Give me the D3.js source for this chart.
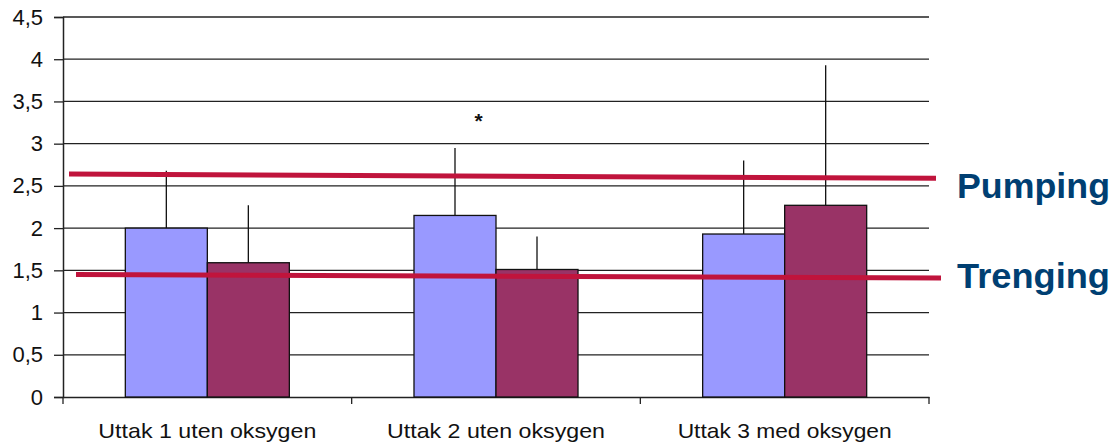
<!DOCTYPE html>
<html><head><meta charset="utf-8">
<script src="https://cdn.jsdelivr.net/npm/d3@7"></script>
<style>body{margin:0;background:#fff}svg{display:block}</style>
</head><body>
<svg id="c" width="1116" height="445"></svg>
<script>
const categories = ["Uttak 1 uten oksygen", "Uttak 2 uten oksygen", "Uttak 3 med oksygen"];
const seriesNames = ["Serie 1", "Serie 2"];
const series1 = [2.0, 2.15, 1.93];
const series2 = [1.59, 1.51, 2.27];
const err1Top = [2.68, 2.95, 2.80];
const err2Top = [2.27, 1.90, 3.93];
const yTicks = [0, 0.5, 1, 1.5, 2, 2.5, 3, 3.5, 4, 4.5];
const refLabels = ["Pumping", "Trenging"];
const refStart = [2.64, 1.45];
const refEnd = [2.59, 1.41];
const starCategory = "Uttak 2 uten oksygen";
const starValue = 3.3;

const svg = d3.select("#c");
const L = 63, R = 929, T = 17, B = 397;
const FONT = "Liberation Sans, Arial, sans-serif";
const y = d3.scaleLinear().domain([0, 4.5]).range([B, T]);
const x = d3.scaleBand().domain(categories).range([L, R]).paddingInner(0).paddingOuter(0);
const xs = d3.scaleBand().domain(seriesNames).range([0, x.bandwidth()]).paddingOuter(0.76).paddingInner(0);
const fmt = d => String(d).replace(".", ",");

// gridlines
svg.append("g").selectAll("line").data(yTicks.filter(d => d > 0)).join("line")
  .attr("x1", L).attr("x2", R).attr("y1", d => y(d)).attr("y2", d => y(d))
  .attr("stroke", "#222").attr("stroke-width", 1.3);

// y axis
const ya = svg.append("g").attr("transform", `translate(${L},0)`)
  .call(d3.axisLeft(y).tickValues(yTicks).tickFormat(fmt).tickSize(9).tickPadding(11));
ya.select(".domain").attr("stroke", "#222").attr("stroke-width", 1.5);
ya.selectAll(".tick line").attr("stroke", "#222").attr("stroke-width", 1.3);
ya.selectAll("text").attr("font-family", FONT).attr("font-size", 22).attr("fill", "#111");

// x axis
const xa = svg.append("g").attr("transform", `translate(0,${B})`)
  .call(d3.axisBottom(x).tickSize(0).tickPadding(0));
xa.select(".domain").attr("stroke", "#222").attr("stroke-width", 1.5);
xa.selectAll("text").attr("font-family", FONT).attr("font-size", 21).attr("fill", "#111")
  .attr("dy", 0).attr("y", 41)
  .attr("textLength", d => d.includes("med") ? 214 : 218).attr("lengthAdjust", "spacingAndGlyphs");
const edges = [L, ...categories.map(c => x(c) + x.bandwidth())];
svg.append("g").selectAll("line").data(edges).join("line")
  .attr("x1", d => d).attr("x2", d => d).attr("y1", B).attr("y2", B + 7)
  .attr("stroke", "#222").attr("stroke-width", 1.3);

// bars + error bars
const colors = ["#9999FF", "#993366"];
const vals = [series1, series2];
const errs = [err1Top, err2Top];
seriesNames.forEach((s, si) => {
  const g = svg.append("g");
  g.selectAll("line").data(categories).join("line")
    .attr("x1", c => x(c) + xs(s) + xs.bandwidth() / 2)
    .attr("x2", c => x(c) + xs(s) + xs.bandwidth() / 2)
    .attr("y1", (c, i) => y(vals[si][i]))
    .attr("y2", (c, i) => y(errs[si][i]))
    .attr("stroke", "#111").attr("stroke-width", 1.3);
  g.selectAll("rect").data(categories).join("rect")
    .attr("x", c => x(c) + xs(s))
    .attr("width", xs.bandwidth())
    .attr("y", (c, i) => y(vals[si][i]))
    .attr("height", (c, i) => B - y(vals[si][i]))
    .attr("fill", colors[si]).attr("stroke", "#111").attr("stroke-width", 1.3);
});

// asterisk
svg.append("text").attr("x", x(starCategory) + x.bandwidth() * 0.44).attr("y", y(starValue) + 10)
  .attr("text-anchor", "middle").attr("font-family", FONT).attr("font-weight", "bold")
  .attr("font-size", 21).attr("fill", "#111").text("*");

// reference lines
const lx = [[69, 936], [76, 941]];
refLabels.forEach((lab, i) => {
  svg.append("line").attr("x1", lx[i][0]).attr("x2", lx[i][1])
    .attr("y1", y(refStart[i])).attr("y2", y(refEnd[i]))
    .attr("stroke", "#C0143C").attr("stroke-width", 5);
  svg.append("text").attr("x", 957).attr("y", i === 0 ? 198 : 288)
    .attr("font-family", FONT).attr("font-weight", "bold")
    .attr("font-size", 35).attr("textLength", 153).attr("lengthAdjust", "spacingAndGlyphs")
    .attr("fill", "#003F72").text(lab);
});
</script>
</body></html>
